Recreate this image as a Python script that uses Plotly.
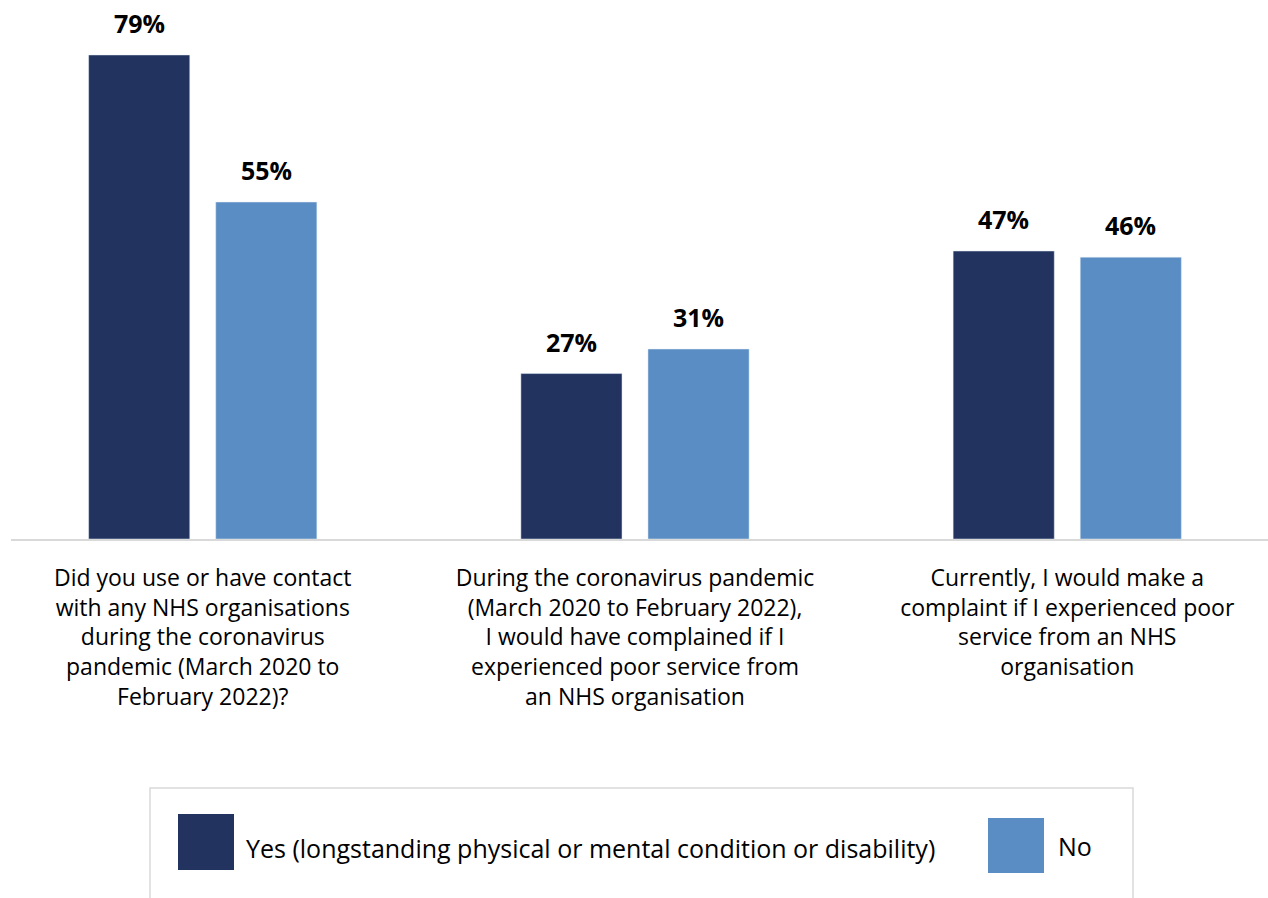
import plotly.graph_objects as go

categories = [
    "Did you use or have contact<br>with any NHS organisations<br>during the coronavirus<br>pandemic (March 2020 to<br>February 2022)?",
    "During the coronavirus pandemic<br>(March 2020 to February 2022),<br>I would have complained if I<br>experienced poor service from<br>an NHS organisation",
    "Currently, I would make a<br>complaint if I experienced poor<br>service from an NHS<br>organisation",
]
series_names = ["Yes (longstanding physical or mental condition or disability)", "No"]
yes_values = [79, 27, 47]
no_values = [55, 31, 46]

DARK = "#21335e"
LIGHT = "#5a8dc3"
FONT = "'Open Sans', Lato, sans-serif"

OFF = 0  # page body margin removed via post_script
W, H = 1268 - OFF, 898 - OFF
BASE = 539 - OFF  # pixel of baseline in figure coordinates
ML, MR, MT = 11 - OFF, 0, 0
MB = H - BASE
PX_PER_PCT = 6.127

def px_x(p):
    # p: pixel in screenshot coordinates
    return (p - OFF - ML) / (W - ML - MR)

def px_y(p):
    return (BASE - (p - OFF)) / (BASE - MT)

xs = list(range(len(categories)))

fig = go.Figure()
fig.add_trace(go.Bar(x=xs, y=yes_values, name=series_names[0], marker_color=DARK,
                     width=0.234, offset=-0.264, showlegend=False))
fig.add_trace(go.Bar(x=xs, y=no_values, name=series_names[1], marker_color=LIGHT,
                     width=0.234, offset=0.030, showlegend=False))

# data labels
for vals, off in ((yes_values, -0.147), (no_values, 0.147)):
    for i, v in enumerate(vals):
        fig.add_annotation(x=i + off, y=v, text=f"<b>{v}%</b>", showarrow=False,
                           yanchor="bottom", yshift=13,
                           font=dict(family=FONT, size=25, color="#000000"))

# legend box (manual, large swatches)
fig.add_shape(type="rect", xref="paper", yref="paper",
              x0=px_x(150), x1=px_x(1133), y0=px_y(910), y1=px_y(788),
              line=dict(color="#d9d9d9", width=1.5), fillcolor="rgba(0,0,0,0)")
fig.add_shape(type="rect", xref="paper", yref="paper",
              x0=px_x(178), x1=px_x(234), y0=px_y(870), y1=px_y(814),
              line=dict(width=0), fillcolor=DARK)
fig.add_shape(type="rect", xref="paper", yref="paper",
              x0=px_x(988), x1=px_x(1044), y0=px_y(873), y1=px_y(818),
              line=dict(width=0), fillcolor=LIGHT)
fig.add_annotation(xref="paper", yref="paper", x=px_x(244), y=px_y(848),
                   xanchor="left", yanchor="middle", showarrow=False,
                   text=series_names[0], font=dict(family=FONT, size=25, color="#000000"))
fig.add_annotation(xref="paper", yref="paper", x=px_x(1056), y=px_y(846),
                   xanchor="left", yanchor="middle", showarrow=False,
                   text=series_names[1], font=dict(family=FONT, size=25, color="#000000"))

# category pixel centres (screenshot coords): a + b*i
a, b = 202.75 - OFF, 432.25
x_left = (ML - a) / b
x_right = (W - MR - a) / b

fig.update_layout(
    width=W, height=H,
    margin=dict(l=ML, r=MR, t=MT, b=MB, pad=0),
    plot_bgcolor="white", paper_bgcolor="white",
    font=dict(family=FONT, size=23, color="#000000"),
    xaxis=dict(tickmode="array", tickvals=xs, ticktext=categories,
               range=[x_left, x_right],
               showline=True, linecolor="#d9d9d9", linewidth=2,
               showgrid=False, zeroline=False, ticks="",
               ticklabelstandoff=17,
               tickfont=dict(family=FONT, size=23, color="#000000"),
               fixedrange=True),
    yaxis=dict(visible=False, range=[0, (BASE - MT) / PX_PER_PCT], fixedrange=True),
    showlegend=False,
    hovermode=False,
)

fig.write_html("out.html",
               config={"displayModeBar": False, "staticPlot": False},
               post_script="document.body.style.margin='0';document.body.style.overflow='hidden';")
